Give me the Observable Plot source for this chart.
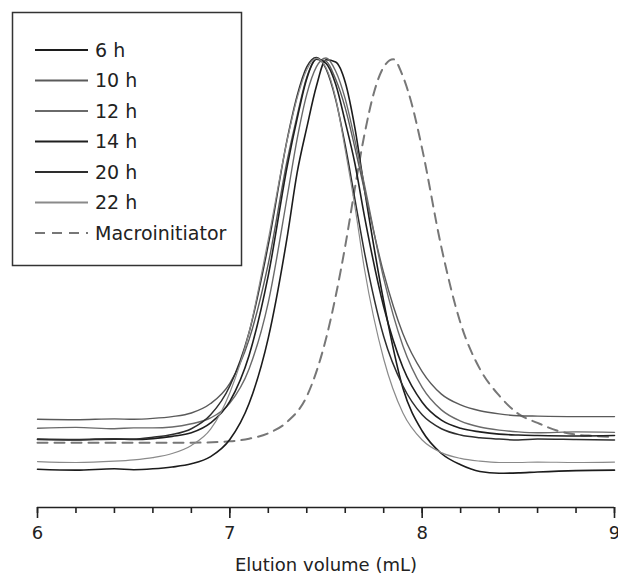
<!DOCTYPE html>
<html>
<head>
<meta charset="utf-8">
<script src="https://cdn.jsdelivr.net/npm/d3@7"></script>
<script src="https://cdn.jsdelivr.net/npm/@observablehq/plot@0.6"></script>
<style>
  html, body { margin: 0; padding: 0; background: #fff; }
  #wrap { position: relative; width: 618px; height: 580px; }
  #legend { position: absolute; left: 0; top: 0; }
</style>
</head>
<body>
<div id="wrap"></div>
<script>
// Elution volume grid (mL) shared by the sample traces
const xs = [6.0,6.2,6.4,6.5,6.6,6.7,6.8,6.9,7.0,7.1,7.2,7.3,7.35,7.4,7.45,7.5,7.55,7.6,7.65,7.7,7.8,7.9,8.0,8.1,8.2,8.3,8.4,8.5,8.6,8.8,9.0];
// Relative detector response
const h6  = [.085,.083,.086,.084,.086,.090,.097,.113,.151,.231,.377,.606,.744,.844,.936,.995,.99,.945,.844,.707,.458,.265,.17,.12,.095,.080,.076,.077,.079,.082,.083];
const h10 = [.196,.195,.197,.196,.198,.202,.210,.231,.276,.373,.542,.775,.871,.956,.996,.992,.952,.888,.80,.705,.521,.386,.302,.252,.228,.215,.208,.204,.203,.202,.202];
const h12 = [.176,.178,.175,.177,.177,.179,.186,.199,.232,.308,.456,.695,.819,.918,.979,.999,.97,.908,.817,.717,.509,.359,.267,.217,.192,.179,.172,.168,.166,.168,.167];
const h14 = [.151,.150,.152,.151,.153,.158,.166,.188,.236,.338,.516,.762,.864,.953,.996,.987,.941,.857,.765,.647,.446,.311,.234,.194,.176,.168,.163,.161,.160,.159,.160];
const h20 = [.152,.151,.153,.152,.156,.162,.175,.206,.27,.389,.584,.822,.915,.979,1.0,.975,.907,.805,.686,.567,.38,.27,.206,.175,.161,.155,.152,.150,.152,.151,.150];
const h22 = [.102,.100,.103,.106,.111,.120,.138,.174,.255,.389,.596,.82,.91,.973,.998,.977,.91,.795,.67,.53,.33,.21,.15,.122,.109,.103,.100,.100,.101,.100,.101];
// Macroinitiator trace
const macroX = [6.0,6.4,6.8,7.0,7.1,7.2,7.3,7.4,7.5,7.6,7.65,7.7,7.75,7.8,7.85,7.9,7.95,8.0,8.1,8.2,8.3,8.4,8.5,8.6,8.7,8.8,8.9,9.0];
const macroY = [.144,.144,.144,.147,.153,.165,.191,.247,.375,.581,.709,.829,.923,.979,.996,.958,.890,.797,.578,.409,.308,.249,.208,.188,.171,.162,.159,.156];

const seriesNames = ["6 h","10 h","12 h","14 h","20 h","22 h","Macroinitiator"];
const seriesColors = ["#1c1c1c","#5a5a5a","#6a6a6a","#1f1f1f","#2e2e2e","#8a8a8a","#777777"];
const seriesWidths = [1.6,1.4,1.4,1.6,1.5,1.2,2];

const majorTicks = [6,7,8,9];
const minorTicks = [6,6.2,6.4,6.6,6.8,7,7.2,7.4,7.6,7.8,8,8.2,8.4,8.6,8.8,9];
const xTitle = "Elution volume (mL)";

const sampleArrays = [h6,h10,h12,h14,h20,h22];
const rows = [];
sampleArrays.forEach((arr, i) => arr.forEach((v, j) => rows.push({s: seriesNames[i], x: xs[j], y: v, i})));
const macroRows = macroX.map((x, j) => ({s: "Macroinitiator", x, y: macroY[j]}));

const lineMarks = seriesNames.slice(0,6).map((name, i) =>
  Plot.line(rows.filter(d => d.s === name), {
    x: "x", y: "y", curve: "monotone-x",
    stroke: seriesColors[i], strokeWidth: seriesWidths[i]
  })
);

const chart = Plot.plot({
  width: 618,
  height: 580,
  marginLeft: 37,
  marginRight: 4,
  marginTop: 57,
  marginBottom: 73,
  style: {fontFamily: "DejaVu Sans", fontSize: "18px", background: "#fff", color: "#222"},
  x: {domain: [6, 9], label: null},
  y: {domain: [0, 1], axis: null},
  marks: [
    Plot.line(macroRows, {x: "x", y: "y", curve: "monotone-x", stroke: seriesColors[6], strokeWidth: 2, strokeDasharray: "10,7"}),
    ...lineMarks,
    Plot.ruleY([0], {stroke: "#222", strokeWidth: 1.6}),
    Plot.axisX(minorTicks, {tickSize: 6, tickFormat: () => "", strokeWidth: 1.6, stroke: "#222", label: null}),
    Plot.axisX(majorTicks, {tickSize: 11, tickPadding: 8, strokeWidth: 1.6, stroke: "#222", fontSize: 18, fill: "#222", label: null, tickFormat: d => String(d)}),
    Plot.text([xTitle], {frameAnchor: "bottom", dy: 63, fontSize: 18, fill: "#222", text: d => d})
  ]
});

const wrap = document.getElementById("wrap");
wrap.appendChild(chart);

// Legend box drawn on top-left
const leg = d3.select(wrap).append("svg").attr("id","legend").attr("width", 260).attr("height", 280)
  .style("font-family", "DejaVu Sans");
leg.append("rect").attr("x", 12.5).attr("y", 12.5).attr("width", 229).attr("height", 253)
  .attr("fill", "#fff").attr("stroke", "#333").attr("stroke-width", 1.5);
seriesNames.forEach((name, i) => {
  const y = 50 + i * 30.5;
  leg.append("line").attr("x1", 35).attr("x2", 88).attr("y1", y).attr("y2", y)
    .attr("stroke", seriesColors[i]).attr("stroke-width", 2)
    .attr("stroke-dasharray", i === 6 ? "10,7" : null);
  leg.append("text").attr("x", 95).attr("y", y).attr("dy", "0.35em")
    .attr("font-size", 19).attr("fill", "#222").text(name);
});
</script>
</body>
</html>
